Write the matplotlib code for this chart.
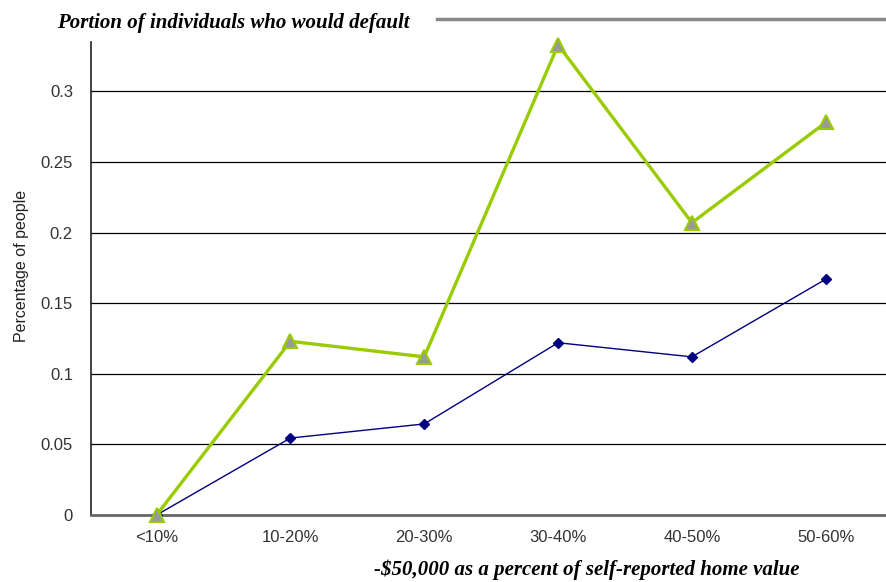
import matplotlib
matplotlib.use("Agg")
import matplotlib.pyplot as plt
from matplotlib.lines import Line2D

# Data
categories = ["<10%", "10-20%", "20-30%", "30-40%", "40-50%", "50-60%"]
default_share_a = [0.0, 0.123, 0.112, 0.333, 0.207, 0.278]   # green series
default_share_b = [0.0, 0.0545, 0.0645, 0.122, 0.112, 0.167]  # navy series
y_ticks = [0, 0.05, 0.1, 0.15, 0.2, 0.25, 0.3]
y_tick_labels = ["0", "0.05", "0.1", "0.15", "0.2", "0.25", "0.3"]

W, H = 886, 582
fig = plt.figure(figsize=(W / 100, H / 100), dpi=100)
ax = fig.add_axes([91 / W, 1 - 515 / H, 1 - 91 / W, (515 - 42) / H])

x = list(range(len(categories)))

# horizontal gridlines
for t in y_ticks[1:]:
    ax.axhline(t, color="black", lw=0.9, zorder=1)

ax.plot(x, default_share_b, color="#000080", lw=1.0, marker="D", ms=5,
        mfc="#000080", mec="#000080", zorder=3, clip_on=False)
ax.plot(x, default_share_a, color="#99CC00", lw=2.4, marker="^", ms=10,
        mfc="#999999", mec="#99CC00", mew=1.5, zorder=4, clip_on=False)

ax.set_xlim(-0.49, 5.45)
ax.set_ylim(0, 0.335)
ax.set_yticks(y_ticks)
ax.set_yticklabels(y_tick_labels)
ax.set_xticks(x)
ax.set_xticklabels(categories)
ax.tick_params(axis="both", length=0, labelsize=12, labelcolor="#333333",
               labelfontfamily="Liberation Sans")
ax.tick_params(axis="y", pad=13)
ax.tick_params(axis="x", pad=11)

for s in ["top", "right"]:
    ax.spines[s].set_visible(False)
ax.spines["left"].set_color("#222222")
ax.spines["left"].set_linewidth(1.2)
ax.spines["bottom"].set_color("#666666")
ax.spines["bottom"].set_linewidth(2.0)

ax.set_ylabel("Percentage of people", fontsize=11.5, family="Liberation Sans",
              color="#222222", labelpad=0, va="center")
ax.yaxis.set_label_coords(-69 / (W - 91), (515 - 266) / (515 - 42))

fig.text(57 / W, 1 - 28 / H, "Portion of individuals who would default",
         family="Liberation Serif", weight="bold", style="italic", fontsize=15,
         ha="left", va="baseline", color="black")
fig.add_artist(Line2D([437 / W, 1.0], [1 - 19 / H, 1 - 19 / H], color="#888888", lw=2.5))

fig.text(587 / W, 1 - 575 / H, "-$50,000 as a percent of self-reported home value",
         family="Liberation Serif", weight="bold", style="italic", fontsize=15,
         ha="center", va="baseline", color="black")

fig.savefig("out.png", dpi=100)
